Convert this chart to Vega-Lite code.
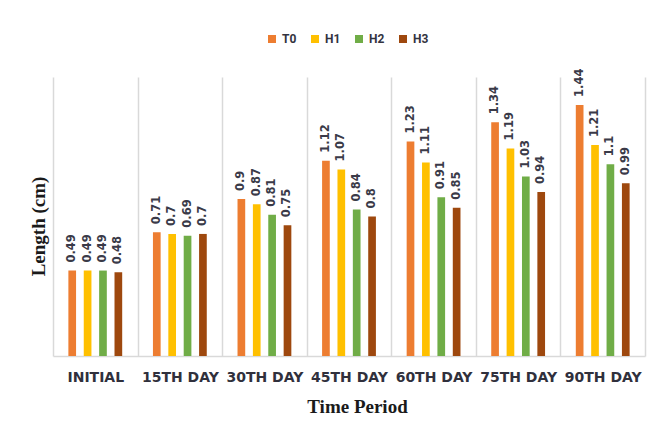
{
  "$schema": "https://vega.github.io/schema/vega-lite/v6.json",
  "width": 592,
  "height": 279,
  "autosize": {"type": "none"},
  "padding": {"left": 53, "top": 77, "right": 15, "bottom": 78},
  "background": "white",
  "config": {"view": {"stroke": null}},
  "data": {
    "values": [
      {"period": "INITIAL", "group": "T0", "length": 0.49},
      {"period": "INITIAL", "group": "H1", "length": 0.49},
      {"period": "INITIAL", "group": "H2", "length": 0.49},
      {"period": "INITIAL", "group": "H3", "length": 0.48},
      {"period": "15TH DAY", "group": "T0", "length": 0.71},
      {"period": "15TH DAY", "group": "H1", "length": 0.7},
      {"period": "15TH DAY", "group": "H2", "length": 0.69},
      {"period": "15TH DAY", "group": "H3", "length": 0.7},
      {"period": "30TH DAY", "group": "T0", "length": 0.9},
      {"period": "30TH DAY", "group": "H1", "length": 0.87},
      {"period": "30TH DAY", "group": "H2", "length": 0.81},
      {"period": "30TH DAY", "group": "H3", "length": 0.75},
      {"period": "45TH DAY", "group": "T0", "length": 1.12},
      {"period": "45TH DAY", "group": "H1", "length": 1.07},
      {"period": "45TH DAY", "group": "H2", "length": 0.84},
      {"period": "45TH DAY", "group": "H3", "length": 0.8},
      {"period": "60TH DAY", "group": "T0", "length": 1.23},
      {"period": "60TH DAY", "group": "H1", "length": 1.11},
      {"period": "60TH DAY", "group": "H2", "length": 0.91},
      {"period": "60TH DAY", "group": "H3", "length": 0.85},
      {"period": "75TH DAY", "group": "T0", "length": 1.34},
      {"period": "75TH DAY", "group": "H1", "length": 1.19},
      {"period": "75TH DAY", "group": "H2", "length": 1.03},
      {"period": "75TH DAY", "group": "H3", "length": 0.94},
      {"period": "90TH DAY", "group": "T0", "length": 1.44},
      {"period": "90TH DAY", "group": "H1", "length": 1.21},
      {"period": "90TH DAY", "group": "H2", "length": 1.1},
      {"period": "90TH DAY", "group": "H3", "length": 0.99}
    ]
  },
  "encoding": {
    "x": {
      "field": "period",
      "type": "nominal",
      "sort": ["INITIAL", "15TH DAY", "30TH DAY", "45TH DAY", "60TH DAY", "75TH DAY", "90TH DAY"],
      "scale": {"paddingInner": 0, "paddingOuter": 0},
      "axis": {
        "title": "Time Period",
        "tickBand": "extent",
        "grid": true,
        "gridColor": "#d9d9d9",
        "gridWidth": 1.5,
        "domain": true,
        "domainColor": "#d9d9d9",
        "domainWidth": 1.5,
        "ticks": false,
        "labelAngle": 0,
        "labelFont": "DejaVu Sans",
        "labelFontSize": 14,
        "labelFontWeight": "bold",
        "labelColor": "#30303c",
        "labelPadding": 14,
        "titleFont": "Liberation Serif",
        "titleFontSize": 19,
        "titleFontWeight": "bold",
        "titleColor": "#1a1a1a",
        "titlePadding": 13,
        "titleX": 304
      }
    },
    "xOffset": {
      "field": "group",
      "type": "nominal",
      "sort": ["T0", "H1", "H2", "H3"],
      "scale": {"paddingInner": 0.5, "paddingOuter": 1.27}
    },
    "y": {
      "field": "length",
      "type": "quantitative",
      "scale": {"domain": [0, 1.6], "nice": false},
      "axis": {
        "title": "Length (cm)",
        "domain": false,
        "labels": false,
        "ticks": false,
        "grid": false,
        "titleFont": "Liberation Serif",
        "titleFontSize": 19,
        "titleFontWeight": "bold",
        "titleColor": "#1a1a1a",
        "titlePadding": 5,
        "titleY": 149
      }
    }
  },
  "layer": [
    {
      "mark": {"type": "bar"},
      "encoding": {
        "color": {
          "field": "group",
          "type": "nominal",
          "sort": ["T0", "H1", "H2", "H3"],
          "scale": {"domain": ["T0", "H1", "H2", "H3"], "range": ["#ed7d31", "#ffc000", "#70ad47", "#9e480e"]},
          "legend": {
            "title": null,
            "orient": "none",
            "legendX": 213,
            "legendY": -44,
            "direction": "horizontal",
            "symbolType": "square",
            "symbolSize": 64,
            "symbolStrokeWidth": 0,
            "labelFont": "Roboto",
            "labelFontSize": 12,
            "labelFontWeight": "bold",
            "labelColor": "#333340",
            "labelOffset": 4,
            "columnPadding": 12,
            "padding": 0
          }
        }
      }
    },
    {
      "mark": {
        "type": "text",
        "angle": -90,
        "align": "left",
        "baseline": "middle",
        "dx": 8,
        "font": "DejaVu Sans",
        "fontSize": 11.5,
        "fontWeight": "bold",
        "color": "#3a3a48"
      },
      "encoding": {
        "text": {"field": "length", "type": "quantitative"}
      }
    }
  ]
}
